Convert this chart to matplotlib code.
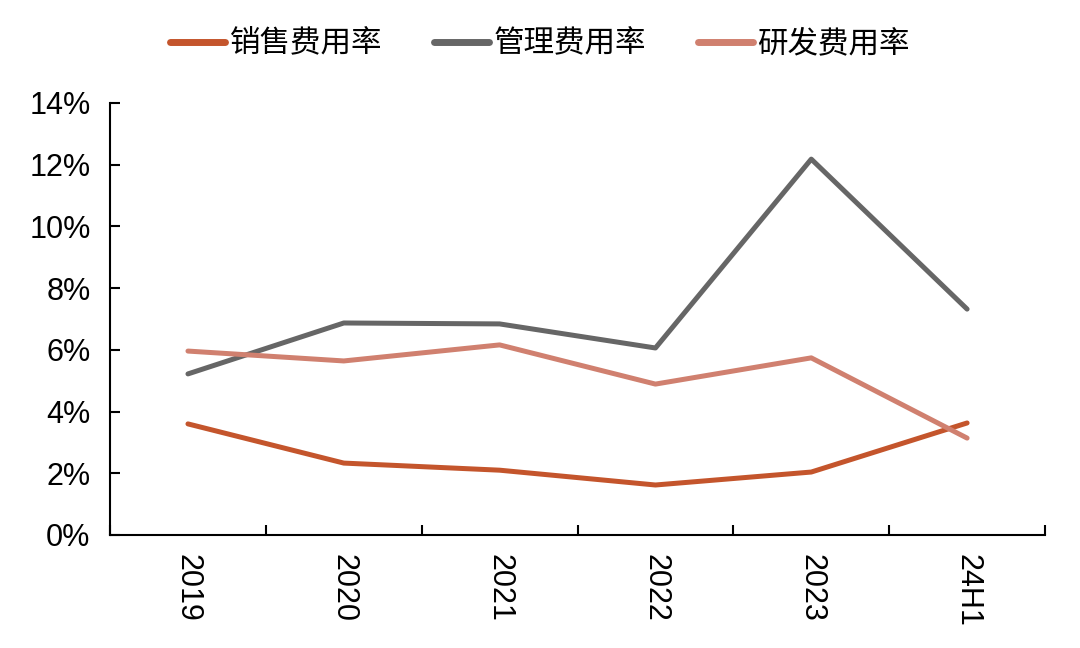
import matplotlib
matplotlib.use("Agg")
import matplotlib.pyplot as plt
from matplotlib.ticker import FuncFormatter

plt.rcParams['font.family'] = ['Liberation Sans', 'Noto Sans CJK SC', 'DejaVu Sans']

categories = ["2019", "2020", "2021", "2022", "2023", "24H1"]
sales_rate = [3.60, 2.33, 2.10, 1.62, 2.04, 3.63]
admin_rate = [5.22, 6.87, 6.84, 6.06, 12.18, 7.32]
rd_rate = [5.96, 5.64, 6.16, 4.89, 5.74, 3.14]

series = [
    ("销售费用率", sales_rate, "#C4552C"),
    ("管理费用率", admin_rate, "#666666"),
    ("研发费用率", rd_rate, "#D0806F"),
]

fig = plt.figure(figsize=(10.8, 6.48), dpi=100)
ax = fig.add_axes([0.1019, 0.1744, 0.8657, 0.6667])

x = list(range(len(categories)))
for name, vals, color in series:
    ax.plot(x, vals, color=color, linewidth=3.6, label=name, solid_capstyle="round")

ax.set_xlim(-0.5, len(categories) - 0.5)
ax.set_ylim(0, 14)
ax.set_yticks(range(0, 15, 2))
ax.yaxis.set_major_formatter(FuncFormatter(lambda v, p: f"{v:.0f}%"))

# category ticks sit between categories, labels centred
ax.set_xticks([i - 0.5 for i in range(len(categories) + 1)])
ax.set_xticklabels([])
ax.set_xticks(x, minor=True)
ax.set_xticklabels(categories, minor=True, rotation=270, fontsize=22)
ax.tick_params(axis="x", which="minor", length=0, pad=14)
ax.tick_params(axis="x", which="major", direction="in", length=7, width=1.5)
ax.tick_params(axis="y", direction="in", length=7, width=1.5, labelsize=22, pad=14)

for s in ["top", "right"]:
    ax.spines[s].set_visible(False)
for s in ["left", "bottom"]:
    ax.spines[s].set_linewidth(1.5)

leg = fig.legend(loc="center", bbox_to_anchor=(0.5, 0.932), ncol=3, frameon=False,
                 prop={"family": ["Noto Sans CJK SC"], "size": 22},
                 handlelength=1.8, handletextpad=0.15, columnspacing=1.7)
for line in leg.get_lines():
    line.set_linewidth(5)

fig.savefig("out.png", dpi=100, facecolor="white")
